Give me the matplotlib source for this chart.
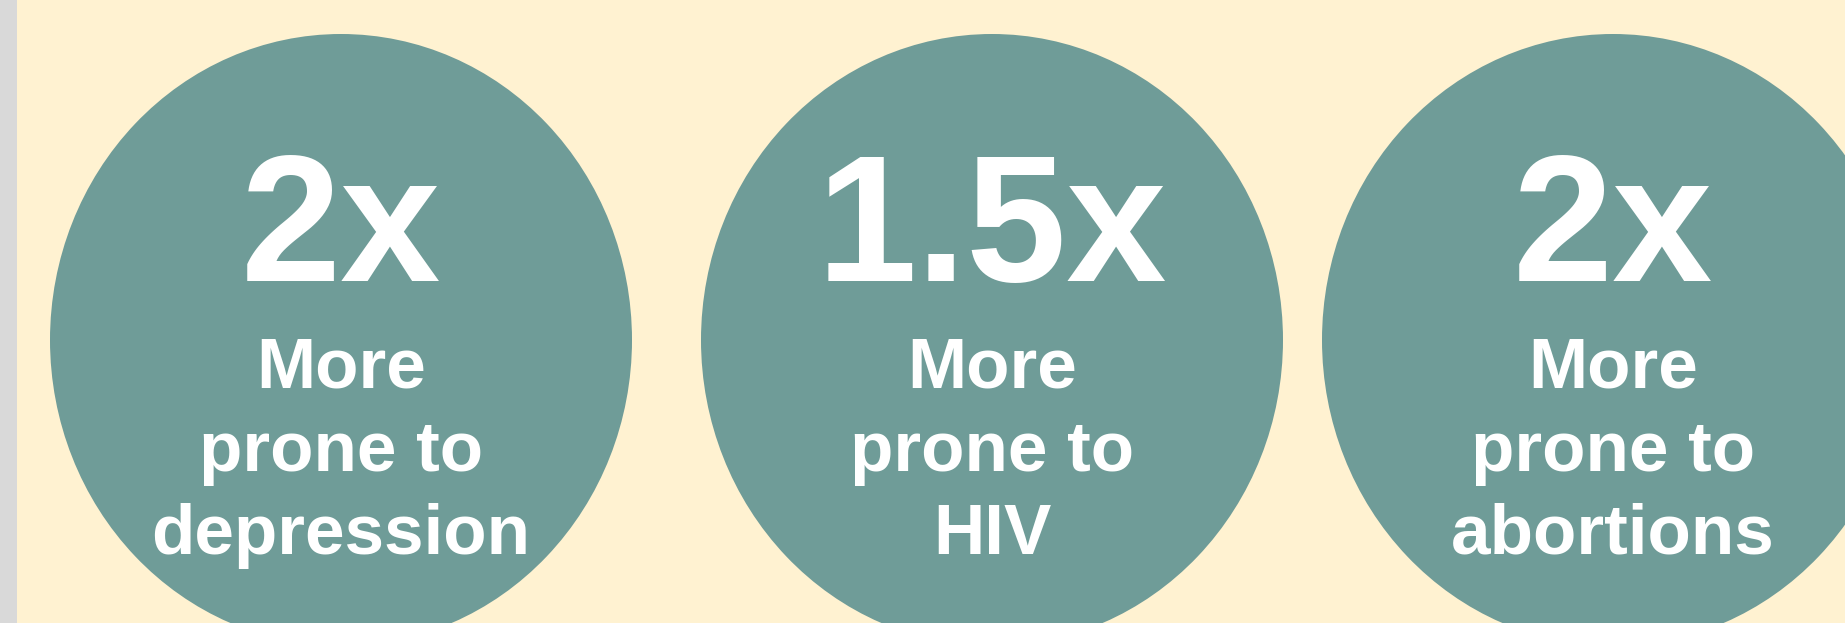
import matplotlib
matplotlib.use("Agg")
import matplotlib.pyplot as plt
from matplotlib.patches import Ellipse, Rectangle

# Data
multipliers = ["2x", "1.5x", "2x"]
labels = ["More\nprone to\ndepression", "More\nprone to\nHIV", "More\nprone to\nabortions"]

W, H = 1845, 623
DPI = 100
BG = "#FFF2D1"
CIRCLE = "#6F9C98"
STRIP = "#D9D9D9"

centers_x = [341, 992, 1613]
center_y = 340
rx, ry = 291, 306

fig = plt.figure(figsize=(W / DPI, H / DPI), dpi=DPI)
fig.patch.set_facecolor(BG)
ax = fig.add_axes([0, 0, 1, 1])
ax.set_xlim(0, W)
ax.set_ylim(H, 0)
ax.axis("off")

ax.add_patch(Rectangle((0, 0), 17, H, facecolor=STRIP, edgecolor="none"))

big_px = 180
small_px = 71
font = ["Liberation Sans", "DejaVu Sans"]

for cx, m, lab in zip(centers_x, multipliers, labels):
    ax.add_patch(Ellipse((cx, center_y), 2 * rx, 2 * ry, facecolor=CIRCLE,
                         edgecolor="none"))
    ax.text(cx, 281, m, ha="center", va="baseline", color="white",
            fontsize=big_px * 72 / DPI, fontweight="bold", family=font)
    for i, line in enumerate(lab.split("\n")):
        ax.text(cx, 388 + i * 83, line, ha="center", va="baseline",
                color="white", fontsize=small_px * 72 / DPI,
                fontweight="bold", family=font)

fig.savefig("out.png", dpi=DPI, facecolor=BG)
